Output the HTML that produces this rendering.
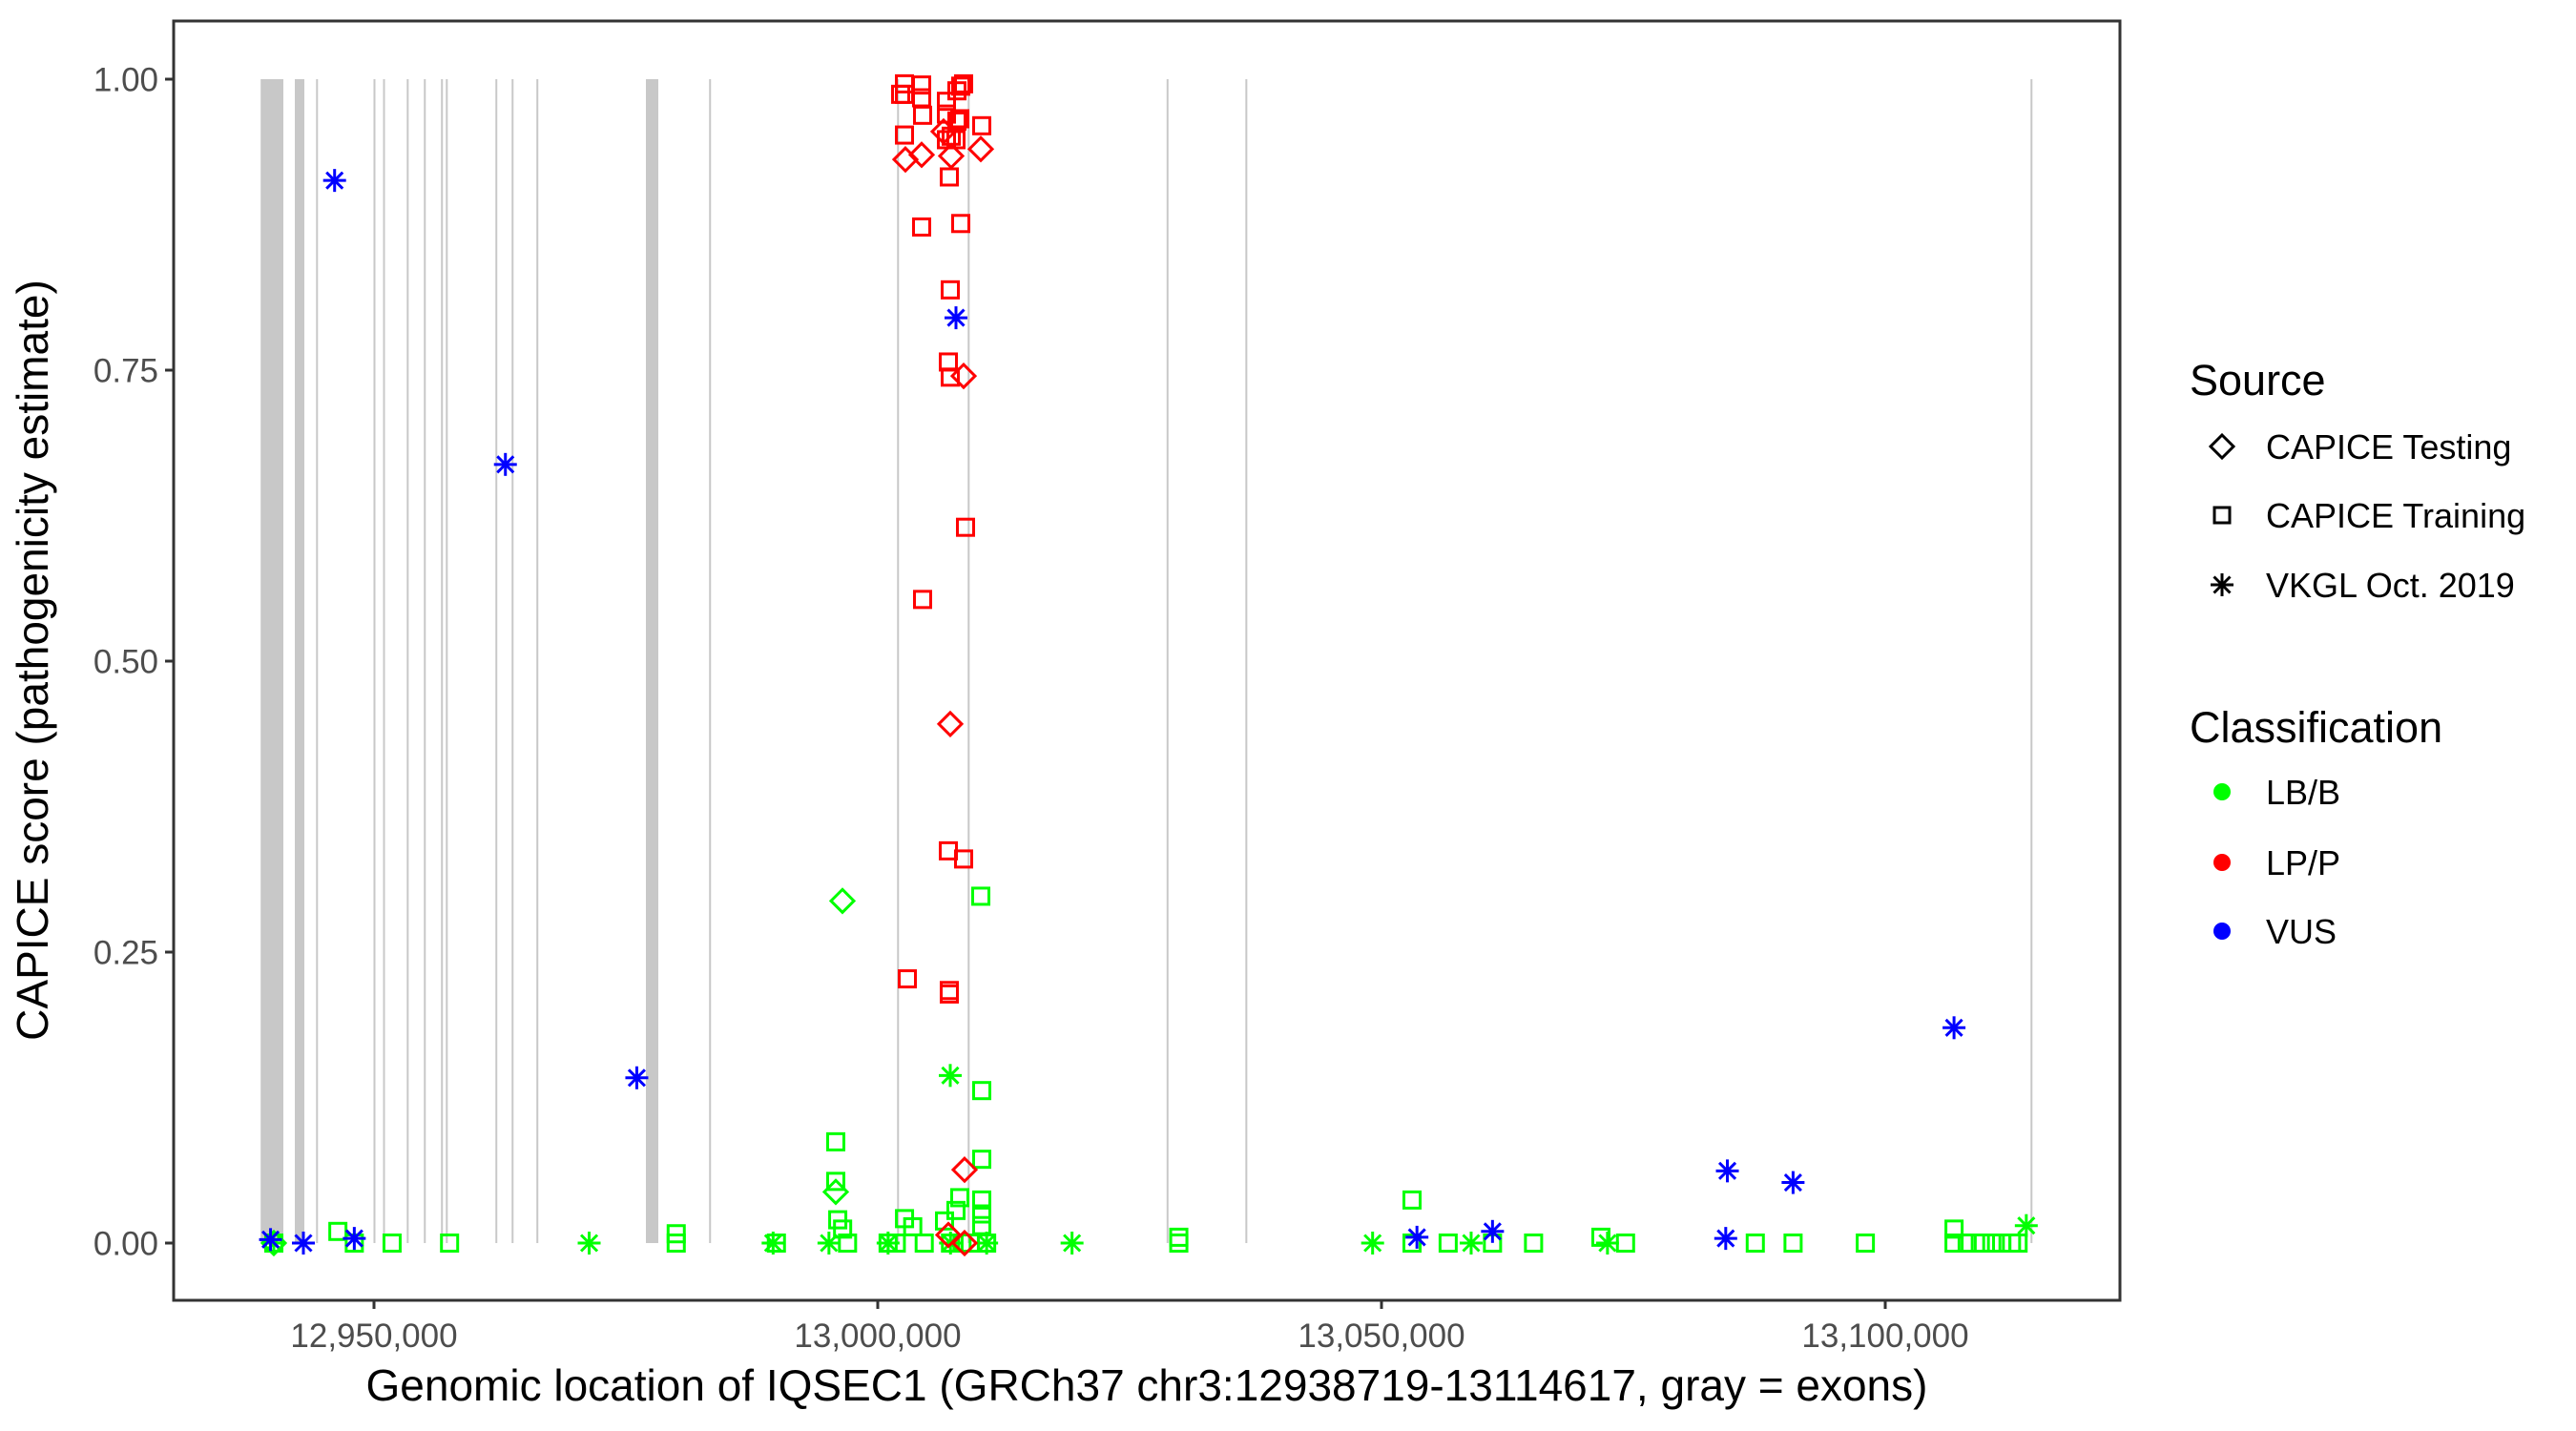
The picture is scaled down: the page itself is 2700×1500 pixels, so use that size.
<!DOCTYPE html>
<html><head><meta charset="utf-8"><title>IQSEC1 CAPICE scores</title>
<style>
html,body{margin:0;padding:0;background:#fff;}
svg{display:block;font-family:"Liberation Sans",Arial,sans-serif;}
</style></head>
<body>
<svg id="chart" width="2700" height="1500" viewBox="0 0 2700 1500" xmlns="http://www.w3.org/2000/svg">
<rect x="0" y="0" width="2700" height="1500" fill="#fff"/>
<g id="exons"></g>
<g id="points"></g>
<rect x="182" y="22" width="2040" height="1341" fill="none" stroke="#333" stroke-width="3"/>
<g id="axes"></g>
<text x="1202" y="1468" font-size="46" text-anchor="middle" fill="#000">Genomic location of IQSEC1 (GRCh37 chr3:12938719-13114617, gray = exons)</text>
<text transform="translate(50,692) rotate(-90)" font-size="46" text-anchor="middle" fill="#000">CAPICE score (pathogenicity estimate)</text>
<g>
  <text x="2295" y="414" font-size="45" fill="#000">Source</text>
  <path d="M2329 456 L2341 468 L2329 480 L2317 468 Z" fill="none" stroke="#000" stroke-width="3"/>
  <text x="2375" y="481" font-size="36" fill="#000">CAPICE Testing</text>
  <rect x="2321" y="532" width="16" height="16" fill="none" stroke="#000" stroke-width="3"/>
  <text x="2375" y="553" font-size="36" fill="#000">CAPICE Training</text>
  <g stroke="#000" stroke-width="3">
    <line x1="2329" y1="601" x2="2329" y2="625"/><line x1="2317" y1="613" x2="2341" y2="613"/><line x1="2320.5" y1="604.5" x2="2337.5" y2="621.5"/><line x1="2320.5" y1="621.5" x2="2337.5" y2="604.5"/>
  </g>
  <text x="2375" y="626" font-size="36" fill="#000">VKGL Oct. 2019</text>
  <text x="2295" y="778" font-size="45" fill="#000">Classification</text>
  <circle cx="2329" cy="830" r="9" fill="#00ff00"/>
  <text x="2375" y="843" font-size="36" fill="#000">LB/B</text>
  <circle cx="2329" cy="904" r="9" fill="#ff0000"/>
  <text x="2375" y="917" font-size="36" fill="#000">LP/P</text>
  <circle cx="2329" cy="976" r="9" fill="#0000ff"/>
  <text x="2375" y="989" font-size="36" fill="#000">VUS</text>
</g>
</svg>
<script>
// ---- data ----
var xTicks = [12950000, 13000000, 13050000, 13100000];
var xTickLabels = ["12,950,000", "13,000,000", "13,050,000", "13,100,000"];
var yTicks = [0, 0.25, 0.5, 0.75, 1];
var yTickLabels = ["0.00", "0.25", "0.50", "0.75", "1.00"];

var exonStart = [12938750, 12942140, 12944250, 12949950, 12950900, 12953250, 12954950, 12956650, 12957130, 12962050, 12963660, 12966120, 12976989, 12983260, 13001920, 13008930, 13028670, 13036490, 13114420];
var exonEnd   = [12941004, 12943087, 12944390, 12950070, 12951020, 12953380, 12955090, 12956790, 12957270, 12962190, 12963800, 12966260, 12978220, 12983400, 13002060, 13009070, 13028810, 13036630, 13114560];

var lppTrainPos = [13002652,13002273,13002652,13004356,13004356,13004451,13002652,13006818,13006818,13008144,13007860,13007292,13007765,13006818,13008239,13008523,13007860,13010322,13007102,13004356,13008239,13007197,13007008,13007197,13008712,13004451,13002936,13007102,13007102,13007008,13008523];
var lppTrainScore = [0.996,0.987,0.987,0.995,0.984,0.969,0.952,0.981,0.970,0.966,0.964,0.951,0.948,0.948,0.994,0.996,0.990,0.960,0.916,0.873,0.876,0.819,0.757,0.744,0.615,0.553,0.227,0.217,0.214,0.337,0.330];
var lppTestPos = [13002746,13004356,13007292,13010227,13006534,13008523,13007197,13008617,13007008,13008617];
var lppTestScore = [0.931,0.935,0.934,0.940,0.955,0.745,0.446,0.063,0.007,0.0];

var lbbTestPos = [12996496,12995833,12940057];
var lbbTestScore = [0.294,0.044,0.0];
var lbbTrainPos = [13010227,13010322,12995833,13010322,12995833,13008144,13007765,13010322,13010322,13006629,13010322,12946415,12979997,12979997,13053030,13053030,13029882,13029882,13071777,13106827,12996029,12996513,13002657,13003472,
  12940057,12948045,12951795,12957500,12989940,12997001,13001027,13001842,13004613,13007222,13008363,13009178,13010808,13056616,13061018,13065093,13074222,13087101,13090851,13098023,13106827,13108131,13109435,13110576,13111554,13112532,13113184];
var lbbTrainScore = [0.298,0.131,0.087,0.072,0.053,0.039,0.028,0.037,0.025,0.019,0.015,0.010,0.008,0.0,0.037,0.0,0.005,0.0,0.005,0.012,0.020,0.012,0.021,0.014,
  0,0,0,0,0,0,0,0,0,0,0,0,0,0,0,0,0,0,0,0,0,0,0,0,0,0,0];
var lbbVkglPos = [12940057,12971356,12989614,12995157,13001027,13007222,13010808,13019285,13049118,13058899,13072430,13113999,13007197];
var lbbVkglScore = [0,0,0,0,0,0,0,0,0,0,0,0.015,0.144];

var vusVkglPos = [12946089,12963043,12976084,13007765,12939731,12942992,12948045,13053519,13061018,13084330,13084167,13090851,13106827];
var vusVkglScore = [0.913,0.669,0.142,0.795,0.003,0.0,0.004,0.005,0.010,0.062,0.004,0.052,0.185];

// ---- scales ----
function xScale(v){ return 920 + (v - 13000000) * 0.01056; }
function yScale(s){ return 1303 - s * 1220; }

var NS = "http://www.w3.org/2000/svg";
function mk(tag, attrs, parent){
  var el = document.createElementNS(NS, tag);
  for (var k in attrs) el.setAttribute(k, attrs[k]);
  parent.appendChild(el);
  return el;
}

// exons
var exG = document.getElementById("exons");
for (var i = 0; i < exonStart.length; i++){
  var x0 = xScale(exonStart[i]), x1 = xScale(exonEnd[i]);
  var r = mk("rect", {x: x0, y: yScale(1), width: Math.max(x1 - x0, 2), height: yScale(0) - yScale(1), fill: "#c8c8c8"}, exG);
  
  
}

// points
var pg = document.getElementById("points");
function square(px, py, color){
  return mk("rect", {x: px - 8.5, y: py - 8.5, width: 17, height: 17, fill: "none", stroke: color, "stroke-width": 3}, pg);
}
function diamond(px, py, color){
  var d = 12;
  return mk("path", {d: "M" + px + " " + (py - d) + " L" + (px + d) + " " + py + " L" + px + " " + (py + d) + " L" + (px - d) + " " + py + " Z", fill: "none", stroke: color, "stroke-width": 3}, pg);
}
function asterisk(px, py, color){
  var g = mk("g", {stroke: color, "stroke-width": 3}, pg);
  var r = 12, q = 8.5;
  mk("line", {x1: px, y1: py - r, x2: px, y2: py + r}, g);
  mk("line", {x1: px - r, y1: py, x2: px + r, y2: py}, g);
  mk("line", {x1: px - q, y1: py - q, x2: px + q, y2: py + q}, g);
  mk("line", {x1: px - q, y1: py + q, x2: px + q, y2: py - q}, g);
  return g;
}
function series(pos, score, fn, color, name){
  for (var i = 0; i < pos.length; i++){
    var el = fn(xScale(pos[i]), yScale(score[i]), color);
    
    
  }
}
series(lbbTrainPos, lbbTrainScore, square, "#00ff00", "point-lbb-training");
series(lbbTestPos, lbbTestScore, diamond, "#00ff00", "point-lbb-testing");
series(lbbVkglPos, lbbVkglScore, asterisk, "#00ff00", "point-lbb-vkgl");
series(lppTrainPos, lppTrainScore, square, "#ff0000", "point-lpp-training");
series(lppTestPos, lppTestScore, diamond, "#ff0000", "point-lpp-testing");
series(vusVkglPos, vusVkglScore, asterisk, "#0000ff", "point-vus-vkgl");

// axes
var ax = document.getElementById("axes");
for (var i = 0; i < xTicks.length; i++){
  var tx = xScale(xTicks[i]);
  var t = mk("line", {x1: tx, y1: 1363, x2: tx, y2: 1372, stroke: "#333", "stroke-width": 3}, ax);
  
  
  var lb = mk("text", {x: tx, y: 1412, "font-size": 35, fill: "#4d4d4d", "text-anchor": "middle"}, ax);
  lb.textContent = xTickLabels[i];
  
  
}
for (var i = 0; i < yTicks.length; i++){
  var ty = yScale(yTicks[i]);
  var t2 = mk("line", {x1: 173, y1: ty, x2: 182, y2: ty, stroke: "#333", "stroke-width": 3}, ax);
  
  
  var lb2 = mk("text", {x: 166, y: ty + 12.5, "font-size": 35, fill: "#4d4d4d", "text-anchor": "end"}, ax);
  lb2.textContent = yTickLabels[i];
  
  
}
</script>
</body></html>
